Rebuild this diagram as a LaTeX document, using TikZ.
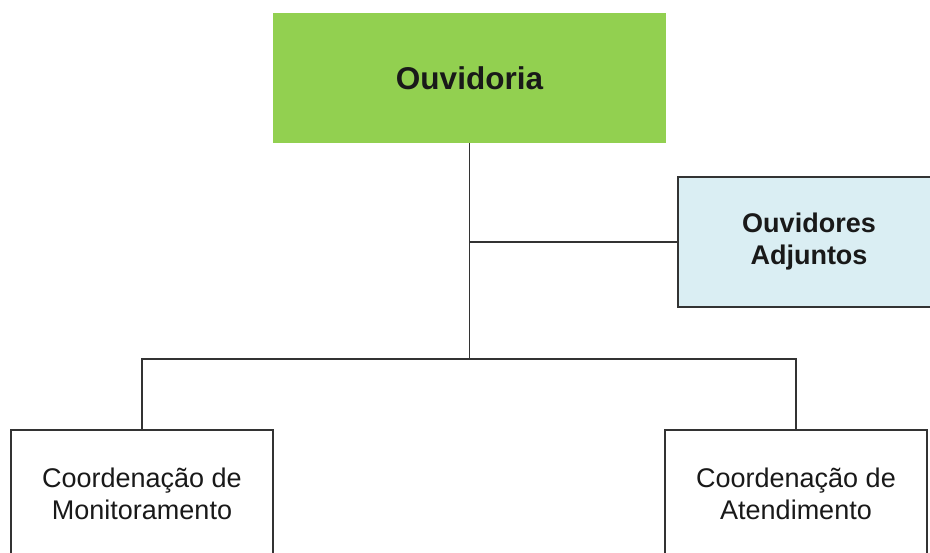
\documentclass[tikz,border=0pt]{standalone}
\usepackage{fontspec}
\setmainfont{Liberation Sans}
\definecolor{ouvgreen}{HTML}{92D050}
\definecolor{adjblue}{HTML}{DAEEF3}
\definecolor{linegray}{HTML}{333333}
\begin{document}
\begin{tikzpicture}[x=1pt,y=-1pt,
  conn/.style={draw=linegray,line width=1.8pt},
  unitbox/.style={rectangle,inner sep=0pt,align=center,text=black!90},
  whitebox/.style={unitbox,draw=linegray,line width=1.8pt,fill=white,minimum width=262pt,minimum height=128pt,font=\fontsize{27}{32}\selectfont}]
\clip (0,0) rectangle (930,553);
\fill[white] (0,0) rectangle (930,553);
\node[unitbox,fill=ouvgreen,minimum width=393pt,minimum height=130pt,font=\bfseries\fontsize{31.5}{36}\selectfont] (ouv) at (469.5,78) {Ouvidoria};
\node[unitbox,draw=linegray,line width=1.8pt,fill=adjblue,minimum width=262pt,minimum height=130pt,font=\bfseries\fontsize{27}{32}\selectfont] (adj) at (809,242) {Ouvidores\\Adjuntos};
\node[whitebox] (mon) at (142,494) {Coordenação de\\Monitoramento};
\node[whitebox] (ate) at (796,494) {Coordenação de\\Atendimento};
\coordinate (bus) at (469.5,359);
\draw[conn] (ouv.south) -- (bus);
\draw[conn] (ouv.south |- adj.west) -- (adj.west);
\draw[conn] (mon.north) -- (mon.north |- bus) -- (ate.north |- bus) -- (ate.north);
\end{tikzpicture}
\end{document}
